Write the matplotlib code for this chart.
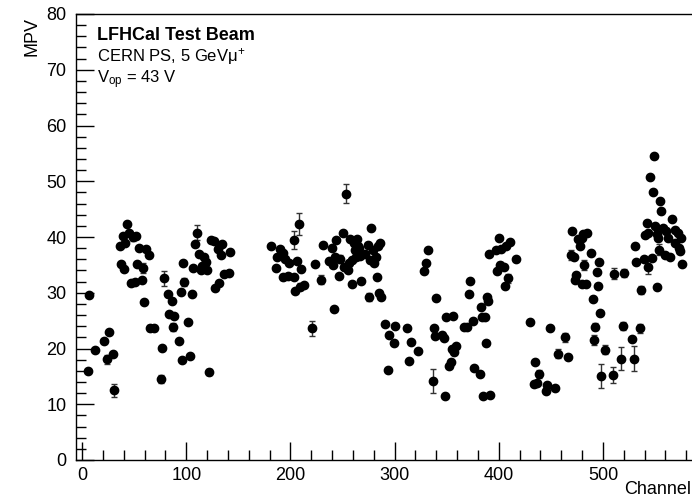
import matplotlib
matplotlib.use("Agg")
import matplotlib.pyplot as plt
from matplotlib.ticker import MultipleLocator

plt.rcParams['font.family'] = ['Liberation Sans', 'DejaVu Sans']
plt.rcParams['mathtext.fontset'] = 'custom'
plt.rcParams['mathtext.rm'] = 'Liberation Sans'
plt.rcParams['mathtext.it'] = 'Liberation Sans:italic'

# MPV per channel
channel = [
    # block 1
    6, 7, 12, 21, 24, 26, 30, 31, 36, 37,
    39, 40, 41, 43, 45, 47, 49, 51, 52, 53,
    55, 57, 58, 59, 61, 64, 65, 69, 76, 77,
    79, 82, 83, 86, 87, 88, 93, 95, 96, 97,
    98, 102, 104, 105, 106, 108, 110, 112, 114, 115,
    117, 119, 120, 122, 124, 127, 128, 130, 131, 133,
    134, 136, 141, 142,
    # block 2
    181, 186, 187, 190, 193, 193, 195, 198, 199, 203,
    203, 204, 206, 208, 209, 210, 213, 221, 224, 229,
    231, 237, 240, 241, 242, 243, 244, 247, 248, 250,
    251, 253, 255, 256, 257, 259, 259, 261, 262, 263,
    264, 265, 266, 267, 268, 272, 274, 275, 276, 277,
    279, 280, 282, 283, 284, 285, 286, 287,
    # block 3
    291, 294, 295, 299, 300, 312, 314, 316, 322, 328,
    330, 332, 337, 338, 339, 340, 345, 347, 348, 349,
    352, 354, 355, 356, 357, 359, 367, 369, 371, 372,
    375, 376, 382, 383, 384, 385, 387, 388, 389, 390,
    391, 392, 397, 398, 400, 401, 402, 405, 406, 407,
    409, 411, 417,
    # block 4
    430, 434, 435, 437, 439, 445, 446, 449, 454, 457,
    464, 466, 469, 470, 472, 473, 474, 476, 478, 480,
    480, 481, 482, 484, 485, 489, 490, 491, 492, 494,
    495, 496, 497, 498, 502, 510, 511, 517, 519, 520,
    528, 530, 531, 532, 536, 537, 539, 540, 542, 543,
    543, 545, 547, 548, 549, 550, 552, 552, 553, 554,
    555, 556, 558, 560, 561, 562, 564, 566, 569, 569,
    572, 573, 574, 575, 576,
]

mpv = [
    # block 1
    16.0, 29.6, 19.8, 21.4, 18.1, 23.0, 19.1, 12.5, 38.4, 35.1,
    40.2, 34.3, 39.0, 42.4, 40.7, 31.7, 40.0, 32.0, 40.2, 35.1,
    38.0, 32.2, 34.4, 28.3, 37.8, 36.8, 23.7, 23.6, 14.6, 20.1,
    32.6, 29.8, 26.2, 28.5, 23.8, 25.9, 21.3, 30.1, 18.0, 35.3,
    32.0, 24.7, 18.7, 29.8, 34.4, 38.8, 40.8, 36.9, 34.1, 34.8,
    36.4, 35.6, 34.1, 15.8, 39.5, 39.2, 30.8, 37.8, 31.7, 36.8,
    38.7, 33.4, 33.5, 37.3,
    # block 2
    38.4, 34.5, 36.4, 37.8, 37.2, 32.8, 36.0, 33.0, 35.3, 39.5,
    32.9, 30.3, 35.7, 42.3, 31.1, 34.2, 31.4, 23.6, 35.1, 32.3,
    38.6, 35.7, 38.0, 35.0, 27.1, 36.4, 39.4, 33.0, 36.0, 40.8,
    34.7, 47.8, 34.1, 35.3, 39.6, 35.9, 31.5, 38.9, 37.7, 36.5,
    39.7, 38.3, 38.0, 36.6, 32.1, 36.9, 38.6, 29.3, 35.9, 41.7,
    37.7, 35.3, 36.4, 32.8, 38.4, 29.9, 39.0, 29.2,
    # block 3
    24.4, 16.1, 22.5, 21.0, 24.0, 23.7, 17.8, 21.2, 19.6, 33.9,
    35.3, 37.7, 14.2, 23.6, 22.2, 29.1, 22.4, 21.8, 11.4, 25.7,
    16.8, 17.6, 20.0, 25.8, 19.4, 20.4, 23.8, 23.9, 29.8, 32.1,
    24.9, 16.5, 15.5, 27.4, 25.7, 11.5, 25.7, 21.0, 29.3, 28.6,
    36.9, 11.7, 37.6, 33.9, 39.9, 35.0, 37.8, 34.7, 31.3, 38.4,
    32.6, 39.1, 36.1,
    # block 4
    24.8, 13.6, 17.6, 13.9, 15.4, 12.4, 13.5, 23.6, 13.0, 19.1,
    22.0, 18.4, 36.8, 41.1, 36.4, 32.3, 33.2, 39.6, 38.4, 39.8,
    31.6, 40.5, 34.9, 31.6, 40.8, 37.2, 28.8, 21.6, 23.9, 33.7,
    31.2, 35.5, 26.3, 15.1, 19.8, 15.2, 33.4, 18.2, 24.1, 33.6,
    21.7, 18.2, 38.3, 35.6, 23.6, 30.5, 36.0, 40.4, 42.6, 34.7,
    40.8, 50.8, 36.2, 48.1, 54.5, 42.0, 40.6, 31.0, 39.8, 37.7,
    46.5, 44.6, 41.6, 36.8, 41.0, 39.8, 36.5, 43.3, 41.3, 39.0,
    40.8, 38.1, 37.5, 39.9, 35.1,
]

mpv_err = [
    # block 1
    .3, .3, .3, .3, .8, .3, .3, 1.2, .3, .3,
    .3, .3, .3, .3, .3, .3, .8, .3, .3, .3,
    .3, .3, .9, .3, .3, .3, .6, .5, .7, .3,
    1.3, .3, .3, .3, .7, .3, .3, .3, .3, .3,
    .7, .3, .3, .3, .3, .3, 1.3, .3, .3, .3,
    .3, .3, .3, .6, .3, .3, .3, .3, .3, .3,
    .3, .3, .3, .3,
    # block 2
    .3, .3, .3, .3, .3, .6, .3, .3, .3, 1.6,
    .3, .3, .3, 2.0, .6, .3, .3, 1.4, .3, .8,
    .3, .3, .3, .3, .3, .3, .3, .3, .7, .3,
    .3, 1.7, .3, .3, .3, .3, .3, .3, .3, .3,
    .3, .3, .3, .3, .3, .3, .3, .7, .3, .3,
    .3, .3, .3, .3, .3, .3, .3, .3,
    # block 3
    .3, .3, .3, .3, .3, .3, .3, .3, .3, .3,
    .3, .3, 2.2, .3, .3, .3, .5, .3, .3, .3,
    .3, .3, .3, .3, .3, .3, .3, .3, .3, .3,
    .3, .3, .3, .3, .3, .3, .3, .3, .3, .3,
    .3, .3, .3, .3, .3, .6, .3, .3, .3, .3,
    .8, .3, .3,
    # block 4
    .3, .3, .3, .3, .7, .3, .3, .3, .3, .8,
    .8, .3, .9, .3, .3, .3, .3, .3, .3, .3,
    .3, .3, .9, .3, .3, .3, .3, .9, .6, .3,
    .3, .3, .3, 2.1, .8, 1.4, 1.0, 2.0, .7, .7,
    .3, 2.2, .3, .3, .8, .8, .3, .3, .3, 1.3,
    .3, .3, .3, .3, .3, .3, .3, .3, .3, 1.0,
    .3, .3, .3, .3, .3, .3, .3, .3, .3, .3,
    .3, .3, .3, .3, .3,
]

fig = plt.figure(figsize=(6.92, 5.0), dpi=100)
ax = fig.add_axes([0.110, 0.08, 0.890, 0.892])

ax.errorbar(channel, mpv, yerr=mpv_err, fmt='o', color='black', ms=6,
            elinewidth=1, ecolor='#333333', capsize=2.5, capthick=1)

ax.set_xlim(-5.8, 585.5)
ax.set_ylim(0, 80)
ax.xaxis.set_major_locator(MultipleLocator(100))
ax.xaxis.set_minor_locator(MultipleLocator(20))
ax.yaxis.set_major_locator(MultipleLocator(10))
ax.yaxis.set_minor_locator(MultipleLocator(2))
ax.tick_params(which='both', direction='in', top=False, right=False,
               width=1, labelsize=13)
ax.tick_params(which='major', length=13)
ax.tick_params(which='minor', length=7)
ax.tick_params(axis='y', pad=7)
ax.tick_params(axis='x', pad=5)
for s in ['left', 'bottom', 'top']:
    ax.spines[s].set_linewidth(1)
ax.spines['right'].set_visible(False)

fig.text(0.046, 0.966, 'MPV', rotation=90, ha='center', va='top', fontsize=13)
fig.text(0.999, 0.012, 'Channel', ha='right', va='baseline', fontsize=13)

fig.text(0.140, 0.921, 'LFHCal Test Beam', fontsize=13, fontweight='bold')
fig.text(0.140, 0.877, 'CERN PS, 5 GeVμ$^{+}$', fontsize=12)
fig.text(0.140, 0.834, r'V$_{\mathrm{op}}$ = 43 V', fontsize=12)

fig.savefig('out.png', dpi=100)
